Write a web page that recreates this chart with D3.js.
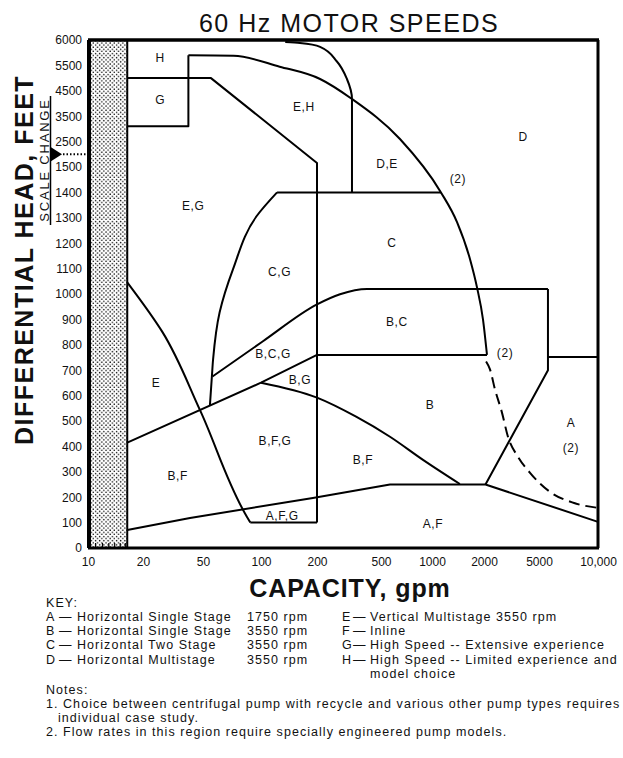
<!DOCTYPE html>
<html><head><meta charset="utf-8">
<script src="https://cdn.jsdelivr.net/npm/d3@7"></script>
<style>
body{margin:0;background:#fff}
text{font-family:"Liberation Sans",Arial,Helvetica,sans-serif;fill:#111}
</style>
</head><body>
<svg id="c" width="623" height="758"></svg>
<script>
// ---------- data ----------
const xTickValues = [10,20,50,100,200,500,1000,2000,5000,10000];
const xTickLabels = ["10","20","50","100","200","500","1000","2000","5000","10,000"];
const yTickValues = [0,100,200,300,400,500,600,700,800,900,1000,1100,1200,1300,1400,1500,2500,3500,4500,5500,6000];
const yBreaks = [0,1500,5500,6000];
const hatchLimit = 16.4; // gpm, left shaded column

// region boundaries [gpm, feet]
const hgBoundary   = [[16.4,5000],[55,5000],[200,1660],[200,100]];
const gBox         = [[16.4,3100],[40,3100],[40,5700]];
const outerArc     = [[40,5700],[72,5690],[126,5450],[209,4965],[330,4177],[647,2602],[1127,1400],[1396,1283],[1660,1137],[1822,1026],[1973,900],[2102,760]];
const innerArc     = [[135,5960],[162,5940],[209,5865],[266,5577],[307,4965],[330,4177],[330,1400]];
const line1400     = [[122,1400],[1127,1400]];
const cgCurve      = [[122,1400],[95,1307],[71.6,1098],[61,928],[56.4,742],[55.6,675],[54.3,561]];
const bcUpper      = [[56,675],[102,813],[200,959],[278,999],[409,1020],[5555,1020]];
const bcRight      = [[5555,1020],[5555,700],[2050,250]];
const aTop         = [[5555,752],[10000,752]];
const bcLower      = [[200,760],[2102,760]];
const eLower       = [[16.4,415],[100,651],[200,760]];
const bgBoundary   = [[100,651],[200,592],[350,517],[565,438],[885,347],[1450,252]];
const afTop        = [[16.4,71],[41,118],[190,197],[565,250],[2050,250],[10000,103]];
const eDiagonal    = [[16.4,1046],[27,849],[47.6,545],[84.6,122],[88,100]];
const afgBottom    = [[88,100],[200,100]];
const dashedLimit  = [[2070,734],[2210,703],[2402,624],[2698,533],[2981,438],[3524,359],[4306,296],[5690,221],[7490,178],[10000,158]];

const regionLabels = [
  ["H",26,5650],["G",26,4140],["E,H",170,3860],["D,E",543,1620],["(2)",1414,1453],
  ["D",3840,2680],["E,G",43,1346],["C,G",126,1087],["C",580,1200],["B,C",620,890],
  ["(2)",2840,768],["B,C,G",116,764],["B,G",162,661],["B",973,563],["A",7280,492],
  ["(2)",7280,394],["B,F,G",119,421],["B,F",386,346],["A,F,G",130,126],["A,F",1013,94],
  ["E",24.4,650],["B,F",34,283]
];

const keyLeft = [
  ["A","Horizontal Single Stage","1750 rpm"],
  ["B","Horizontal Single Stage","3550 rpm"],
  ["C","Horizontal Two Stage","3550 rpm"],
  ["D","Horizontal Multistage","3550 rpm"]
];
const keyRight = [
  ["E","Vertical Multistage 3550 rpm"],
  ["F","Inline"],
  ["G","High Speed -- Extensive experience"],
  ["H","High Speed -- Limited experience and"]
];
const keyRightCont = "model choice";
const notes = [
  "1. Choice between centrifugal pump with recycle and various other pump types requires",
  "individual case study.",
  "2. Flow rates in this region require specially engineered pump models."
];

// ---------- layout ----------
const svg = d3.select("#c");
svg.append("rect").attr("width",623).attr("height",758).attr("fill","#fff");

const x = d3.scaleLog().domain(xTickValues).range([88,143,203,261,317,381,432,484,539,598]);
const y = d3.scaleLinear().domain(yBreaks).range([548,167,65.4,40]);

// hatch pattern
const defs = svg.append("defs");
const pat = defs.append("pattern").attr("id","dots").attr("width",4.2).attr("height",4.2)
  .attr("patternUnits","userSpaceOnUse");
pat.append("rect").attr("width",4.2).attr("height",4.2).attr("fill","#fff");
pat.append("circle").attr("cx",1).attr("cy",1).attr("r",0.72).attr("fill","#000");
pat.append("circle").attr("cx",3.1).attr("cy",3.1).attr("r",0.72).attr("fill","#000");

svg.append("rect")
  .attr("x",x(10)).attr("y",y(6000))
  .attr("width",x(hatchLimit)-x(10)).attr("height",y(0)-y(6000))
  .attr("fill","url(#dots)");
svg.append("line").attr("x1",x(hatchLimit)).attr("x2",x(hatchLimit))
  .attr("y1",y(6000)).attr("y2",y(0)).attr("stroke","#000").attr("stroke-width",2);

// minor ticks in hatch area
[11,12,13,14,15,16].forEach(v=>{
  svg.append("line").attr("x1",x(v)).attr("x2",x(v)).attr("y1",y(0)).attr("y2",y(0)-5)
    .attr("stroke","#000").attr("stroke-width",1.2);
});

const g = svg.append("g").attr("fill","none").attr("stroke","#000").attr("stroke-width",2)
  .attr("stroke-linejoin","round");
const lin = d3.line().x(d=>x(d[0])).y(d=>y(d[1]));
const monoX = d3.line().x(d=>x(d[0])).y(d=>y(d[1])).curve(d3.curveMonotoneX);
const monoY = d3.line().x(d=>x(d[0])).y(d=>y(d[1])).curve(d3.curveMonotoneY);

g.append("path").attr("d",lin(hgBoundary));
g.append("path").attr("d",lin(gBox));
g.append("path").attr("d",monoX(outerArc));
g.append("path").attr("d",monoY(innerArc));
g.append("path").attr("d",lin(line1400));
g.append("path").attr("d",monoY(cgCurve));
g.append("path").attr("d",monoX(bcUpper));
g.append("path").attr("d",lin(bcRight));
g.append("path").attr("d",lin(aTop));
g.append("path").attr("d",lin(bcLower));
g.append("path").attr("d",lin(eLower));
g.append("path").attr("d",monoX(bgBoundary));
g.append("path").attr("d",lin(afTop));
g.append("path").attr("d",monoY(eDiagonal));
g.append("path").attr("d",lin(afgBottom));
g.append("path").attr("d",monoX(dashedLimit)).attr("stroke-dasharray","11,6");

// frame
const fr = svg.append("g").attr("stroke","#000").attr("fill","none");
fr.append("line").attr("x1",x(10)).attr("x2",x(10000)+1).attr("y1",y(6000)).attr("y2",y(6000)).attr("stroke-width",3.5);
fr.append("line").attr("x1",x(10)+1).attr("x2",x(10)+1).attr("y1",y(6000)).attr("y2",y(0)).attr("stroke-width",4);
fr.append("line").attr("x1",x(10)).attr("x2",x(10000)+1).attr("y1",y(0)).attr("y2",y(0)).attr("stroke-width",3);
fr.append("line").attr("x1",x(10000)).attr("x2",x(10000)).attr("y1",y(6000)).attr("y2",y(0)).attr("stroke-width",3);

// axes
const yAxis = d3.axisLeft(y).tickValues(yTickValues).tickSize(0).tickPadding(6).tickFormat(d=>String(d));
const ya = svg.append("g").attr("transform",`translate(${x(10)},0)`).call(yAxis);
ya.select(".domain").remove();
ya.selectAll("text").attr("font-size",12).attr("font-family","Liberation Sans, Arial, sans-serif").attr("fill","#111");

const xAxis = d3.axisBottom(x).tickValues(xTickValues).tickSize(0).tickPadding(9)
  .tickFormat((d,i)=>xTickLabels[i]);
const xa = svg.append("g").attr("transform",`translate(0,${y(0)})`).call(xAxis);
xa.select(".domain").remove();
xa.selectAll("text").attr("font-size",12).attr("font-family","Liberation Sans, Arial, sans-serif").attr("fill","#111");

// region labels
svg.append("g").selectAll("text").data(regionLabels).join("text")
  .attr("x",d=>x(d[1])).attr("y",d=>y(d[2])).attr("dy","0.35em")
  .attr("text-anchor","middle").attr("font-size",12).attr("letter-spacing",0.6)
  .text(d=>d[0]);

// titles
svg.append("text").attr("x",349).attr("y",32).attr("text-anchor","middle")
  .attr("font-size",25).attr("letter-spacing",1.5).text("60 Hz MOTOR SPEEDS");
svg.append("text").attr("x",350).attr("y",597).attr("text-anchor","middle")
  .attr("font-size",25).attr("font-weight","bold").attr("letter-spacing",0.9).text("CAPACITY, gpm");
svg.append("text").attr("transform","translate(33,260) rotate(-90)").attr("text-anchor","middle")
  .attr("font-size",25).attr("font-weight","bold").attr("letter-spacing",1.5).text("DIFFERENTIAL HEAD, FEET");

// scale change marker
const ySc = (y(1500)+y(2500))/2;
svg.append("text").attr("transform",`translate(49,160) rotate(-90)`).attr("text-anchor","middle")
  .attr("font-size",13).attr("letter-spacing",1.8).text("SCALE CHANGE");
svg.append("line").attr("x1",50.5).attr("x2",50.5).attr("y1",96).attr("y2",225).attr("stroke","#000").attr("stroke-width",1.5);
svg.append("path").attr("d",`M51,${ySc-7}L62,${ySc}L51,${ySc+7}Z`).attr("fill","#000");
svg.append("line").attr("x1",63).attr("x2",86).attr("y1",ySc).attr("y2",ySc)
  .attr("stroke","#000").attr("stroke-width",2).attr("stroke-dasharray","1.5,2");

// key
const kf = 12.5, ks = 1.05;
const key = svg.append("g").attr("font-size",kf).attr("letter-spacing",ks);
key.append("text").attr("x",46).attr("y",607).text("KEY:");
const rows = [621,635,649,664];
keyLeft.forEach((d,i)=>{
  key.append("text").attr("x",46).attr("y",rows[i]).text(d[0]);
  key.append("text").attr("x",59).attr("y",rows[i]).text("\u2014");
  key.append("text").attr("x",77).attr("y",rows[i]).text(d[1]);
  key.append("text").attr("x",247).attr("y",rows[i]).text(d[2]);
});
keyRight.forEach((d,i)=>{
  key.append("text").attr("x",342).attr("y",rows[i]).text(d[0]);
  key.append("text").attr("x",353).attr("y",rows[i]).text("\u2014");
  key.append("text").attr("x",370).attr("y",rows[i]).text(d[1]);
});
key.append("text").attr("x",370).attr("y",678).text(keyRightCont);
key.append("text").attr("x",46).attr("y",694).text("Notes:");
key.append("text").attr("x",46).attr("y",708).text(notes[0]);
key.append("text").attr("x",58).attr("y",722).text(notes[1]);
key.append("text").attr("x",46).attr("y",736).text(notes[2]);
</script>
</body></html>
